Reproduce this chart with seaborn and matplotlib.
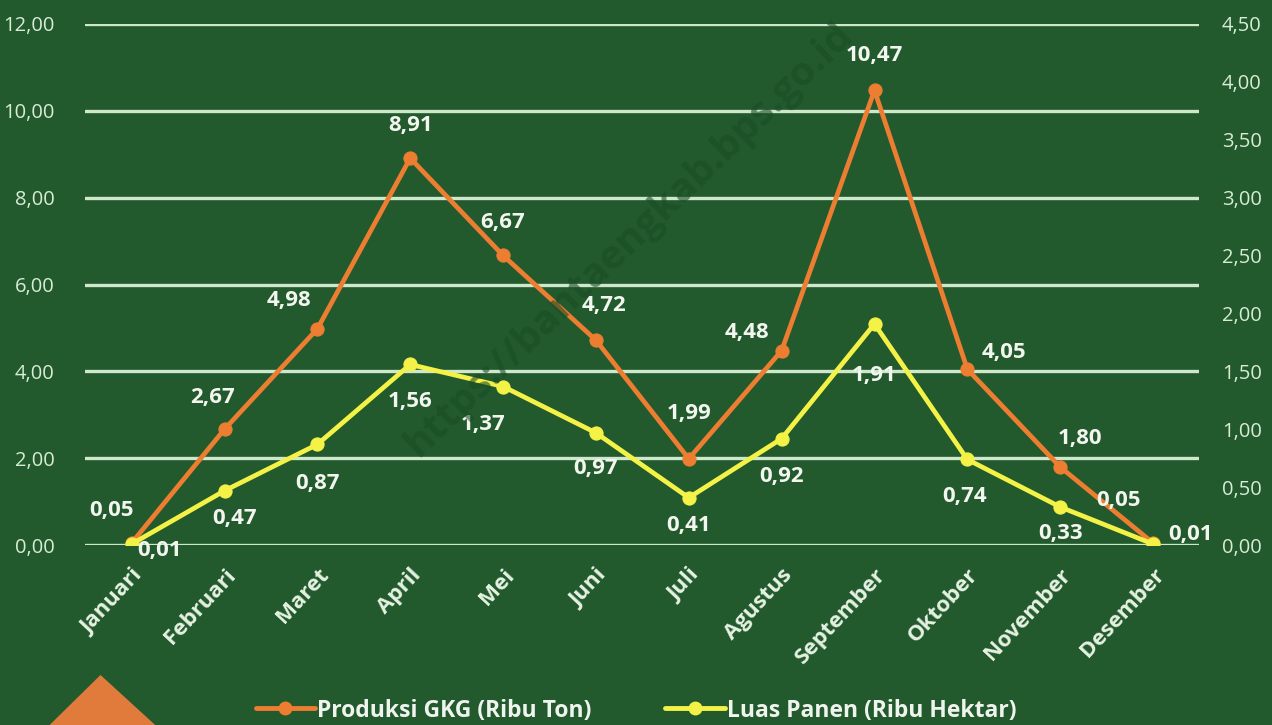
import numpy as np
import pandas as pd
import matplotlib
matplotlib.use("Agg")
import matplotlib.pyplot as plt
from matplotlib.patches import Polygon
from matplotlib.lines import Line2D
import seaborn as sns

months = ["Januari", "Februari", "Maret", "April", "Mei", "Juni", "Juli",
          "Agustus", "September", "Oktober", "November", "Desember"]
produksi = [0.05, 2.67, 4.98, 8.91, 6.67, 4.72, 1.99, 4.48, 10.47, 4.05, 1.80, 0.05]
luas = [0.01, 0.47, 0.87, 1.56, 1.37, 0.97, 0.41, 0.92, 1.91, 0.74, 0.33, 0.01]
left_ticks = [0, 2, 4, 6, 8, 10, 12]
right_ticks = [0, 0.5, 1.0, 1.5, 2.0, 2.5, 3.0, 3.5, 4.0, 4.5]
name_prod = "Produksi GKG (Ribu Ton)"
name_luas = "Luas Panen (Ribu Hektar)"

# label offsets in pixels (styling)
off_prod = [(-20, 33), (-12, 32), (-28, 28), (0, 33), (0, 33), (8, 35), (0, 45),
            (-35, 18), (0, 35), (37, 17), (20, 29), (-35, 43)]
off_luas = [(28, -6), (10, -28), (0, -39), (0, -37), (-20, -38), (0, -36), (0, -28),
            (0, -38), (0, -52), (-3, -37), (0, -27), (37, 10)]

BG = "#225a2e"
ORANGE = "#ed7d31"
YELLOW = "#f4f246"
GRID = "#cfe8cc"
TICK = "#d8ecd4"
FONT = ["Open Sans", "DejaVu Sans"]

sns.set_theme(style="white")
plt.rcParams["font.family"] = FONT

fig = plt.figure(figsize=(12.72, 7.25), dpi=100, facecolor=BG)
ax = fig.add_axes([0.067, 0.248, 0.876, 0.719])
ax.set_facecolor(BG)
ax2 = ax.twinx()

x = np.arange(len(months))
df = pd.DataFrame({"x": x, "month": months, "produksi": produksi, "luas": luas})

sns.lineplot(data=df, x="x", y="produksi", ax=ax, color=ORANGE, linewidth=3.4,
             marker="o", markersize=9.5, markeredgecolor=ORANGE, zorder=3)
sns.lineplot(data=df, x="x", y="luas", ax=ax2, color=YELLOW, linewidth=3.4,
             marker="o", markersize=9.5, markeredgecolor=YELLOW, zorder=3)

ax.set_xlim(-0.5, len(months) - 0.5)
ax.set_ylim(0, 12)
ax2.set_ylim(0, 4.5)
ax.set_yticks(left_ticks)
ax2.set_yticks(right_ticks)
ax.set_yticklabels([f"{v:.2f}".replace(".", ",") for v in left_ticks])
ax2.set_yticklabels([f"{v:.2f}".replace(".", ",") for v in right_ticks])
ax.set_xticks(x)
ax.set_xticklabels(months, rotation=47, ha="right", rotation_mode="anchor")
ax.set_xlabel("")
ax.set_ylabel("")
ax2.set_ylabel("")

for a in (ax, ax2):
    for s in a.spines.values():
        s.set_visible(False)
    a.tick_params(axis="both", length=0, colors=TICK, labelsize=14.5)
ax.tick_params(axis="y", pad=22)
ax2.tick_params(axis="y", pad=16)
ax.tick_params(axis="x", pad=14)
for lab in ax.get_xticklabels():
    lab.set_fontweight("bold")
    lab.set_color("#e6f2e2")
    lab.set_fontsize(16)

ax.yaxis.grid(True, color=GRID, linewidth=2.4)
ax.xaxis.grid(False)
ax2.grid(False)
ax.set_axisbelow(True)

for i, v in enumerate(produksi):
    ax.annotate(f"{v:.2f}".replace(".", ","), (x[i], v), xytext=off_prod[i],
                textcoords="offset pixels", ha="center", va="center",
                color="#f2f6ef", fontsize=16, fontweight="bold", zorder=5)
for i, v in enumerate(luas):
    ax2.annotate(f"{v:.2f}".replace(".", ","), (x[i], v), xytext=off_luas[i],
                 textcoords="offset pixels", ha="center", va="center",
                 color="#f2f6ef", fontsize=16, fontweight="bold", zorder=5)

# watermark
fig.text(0.495, 0.67, "https://bantaengkab.bps.go.id", rotation=44,
         ha="center", va="center", fontsize=29, fontweight="bold",
         color="#1b4b25", alpha=0.6, zorder=0)

# legend
handles = [Line2D([0], [0], color=ORANGE, lw=3.5, marker="o", markersize=9),
           Line2D([0], [0], color=YELLOW, lw=3.5, marker="o", markersize=9)]
leg = fig.legend(handles, [name_prod, name_luas], loc="center",
                 bbox_to_anchor=(0.5, 0.02), ncol=2, frameon=False,
                 handlelength=2.6, handletextpad=0.1, columnspacing=3.2,
                 prop={"size": 16.5, "weight": "bold"})
for t in leg.get_texts():
    t.set_color("#f0f4ee")

# logo fragment
tri = Polygon([[0.039, 0.0], [0.079, 0.069], [0.122, 0.0]], closed=True,
              transform=fig.transFigure, facecolor="#e07b3c", edgecolor="none")
fig.patches.append(tri)

fig.savefig("out.png", dpi=100, facecolor=BG)
